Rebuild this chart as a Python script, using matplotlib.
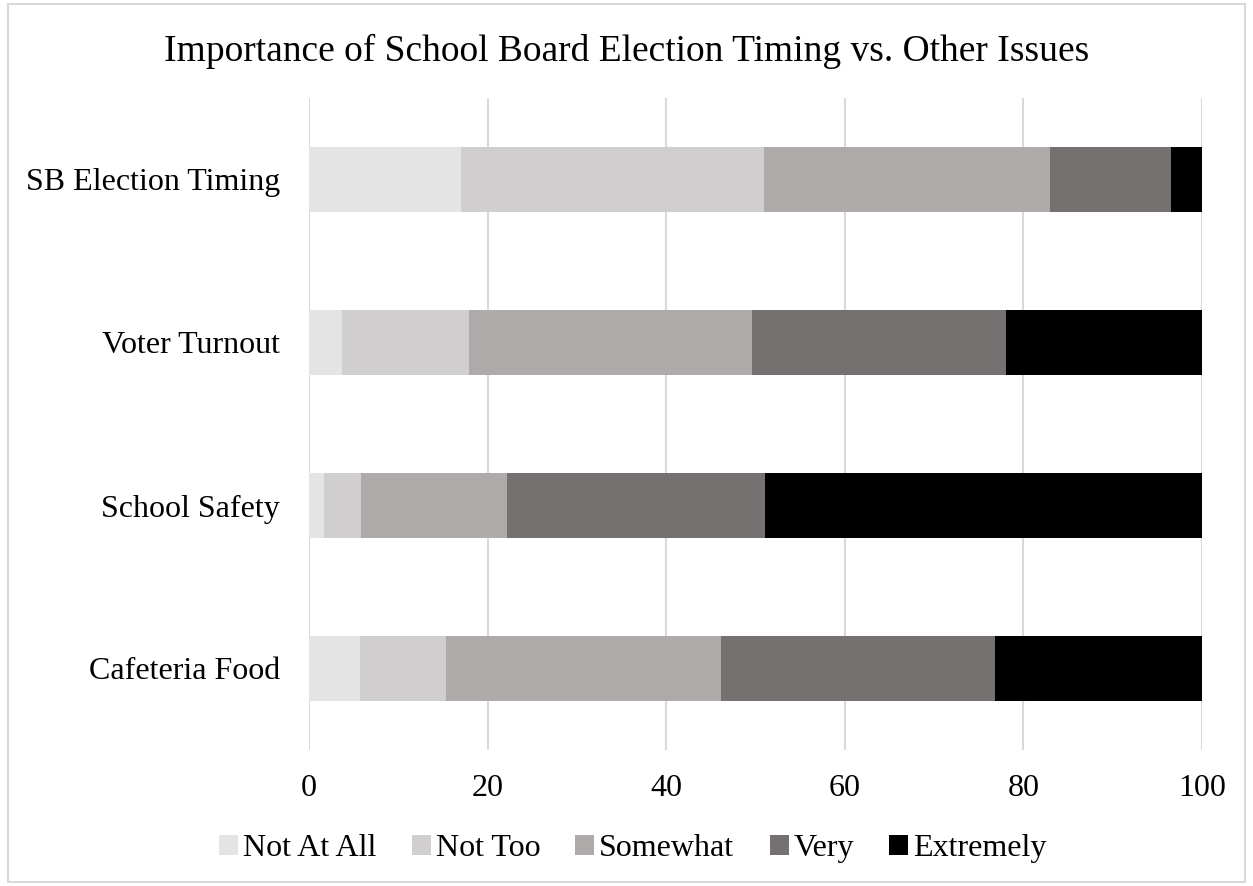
import numpy as np
import matplotlib.pyplot as plt
from matplotlib.patches import Rectangle

plt.rcParams['font.family'] = ['Liberation Serif', 'DejaVu Serif']

# data (percent of respondents)
issues = ['SB Election Timing', 'Voter Turnout', 'School Safety', 'Cafeteria Food']
levels = ['Not At All', 'Not Too', 'Somewhat', 'Very', 'Extremely']
not_at_all = [17.0, 3.7, 1.7, 5.7]
not_too = [33.9, 14.2, 4.1, 9.6]
somewhat = [32.1, 31.7, 16.4, 30.8]
very = [13.5, 28.4, 28.9, 30.7]
extremely = [3.5, 22.0, 48.9, 23.2]
colors = ['#E5E4E4', '#D0CECE', '#AEAAAA', '#767171', '#000000']

fig = plt.figure(figsize=(12.53, 8.86), dpi=100)
ax = fig.add_axes([0.2466, 0.1535, 0.9593 - 0.2466, 0.8894 - 0.1535])

y = np.arange(len(issues))
left = np.zeros(len(issues))
for name, vals, col in zip(levels, [not_at_all, not_too, somewhat, very, extremely], colors):
    ax.barh(y, vals, left=left, height=0.4, color=col, label=name, zorder=3)
    left += np.array(vals)

ax.set_ylim(3.5, -0.5)
ax.set_xlim(0, 100)
ax.set_xticks([0, 20, 40, 60, 80, 100])
ax.set_yticks(y)
ax.set_yticklabels(issues)
ax.tick_params(length=0, labelsize=23)
ax.tick_params(axis='y', pad=21)
ax.tick_params(axis='x', pad=17)
ax.grid(axis='x', color='#D9D9D9', linewidth=1.5, zorder=0)
for s in ax.spines.values():
    s.set_visible(False)

fig.suptitle('Importance of School Board Election Timing vs. Other Issues',
             fontsize=27, y=0.962)

ax.legend(loc='center', bbox_to_anchor=(0.505, 0.042), bbox_transform=fig.transFigure,
          ncol=5, frameon=False, fontsize=23, handlelength=0.6, handleheight=0.6,
          handletextpad=0.15, columnspacing=1.1)

fig.patches.append(Rectangle((0.006, 0.004), 0.988, 0.992, transform=fig.transFigure,
                             fill=False, edgecolor='#D9D9D9', linewidth=1.5))

fig.savefig('out.png', dpi=100)
